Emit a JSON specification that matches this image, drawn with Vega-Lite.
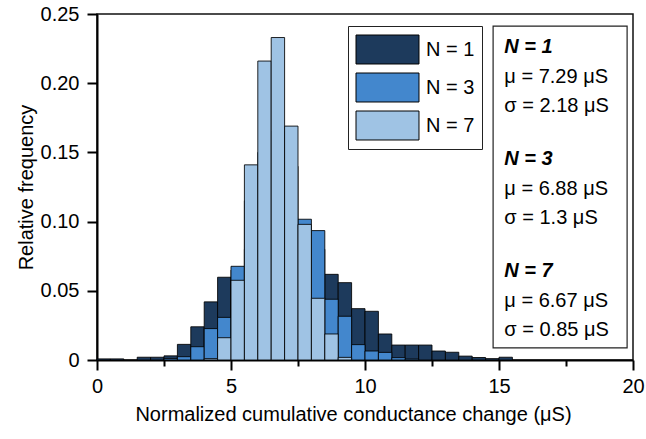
{
  "$schema": "https://vega.github.io/schema/vega-lite/v6.json",
  "width": 536,
  "height": 346,
  "autosize": {"type": "none"},
  "padding": {"left": 97, "top": 14, "right": 13, "bottom": 79},
  "background": "white",
  "config": {
    "font": "Liberation Sans",
    "view": {"stroke": "#111111", "strokeWidth": 1.5},
    "axis": {
      "domainColor": "#000000",
      "domainWidth": 2,
      "tickColor": "#000000",
      "tickWidth": 2,
      "labelFont": "Liberation Sans",
      "labelFontSize": 20,
      "labelColor": "#000000",
      "titleFont": "Liberation Sans",
      "titleFontSize": 20,
      "titleFontWeight": "normal",
      "titleColor": "#000000",
      "grid": false,
      "labelFlush": false,
      "labelOverlap": false
    }
  },
  "datasets": {
    "hist": [
      {"N": "N = 1", "start": 0.0, "end": 0.5, "freq": 0.0008},
      {"N": "N = 1", "start": 0.5, "end": 1.0, "freq": 0.0008},
      {"N": "N = 1", "start": 1.5, "end": 2.0, "freq": 0.002},
      {"N": "N = 1", "start": 2.0, "end": 2.5, "freq": 0.002},
      {"N": "N = 1", "start": 2.5, "end": 3.0, "freq": 0.003},
      {"N": "N = 1", "start": 3.0, "end": 3.5, "freq": 0.0113},
      {"N": "N = 1", "start": 3.5, "end": 4.0, "freq": 0.024},
      {"N": "N = 1", "start": 4.0, "end": 4.5, "freq": 0.042},
      {"N": "N = 1", "start": 4.5, "end": 5.0, "freq": 0.0598},
      {"N": "N = 1", "start": 5.0, "end": 5.5, "freq": 0.065},
      {"N": "N = 1", "start": 5.5, "end": 6.0, "freq": 0.08},
      {"N": "N = 1", "start": 6.0, "end": 6.5, "freq": 0.09},
      {"N": "N = 1", "start": 6.5, "end": 7.0, "freq": 0.095},
      {"N": "N = 1", "start": 7.0, "end": 7.5, "freq": 0.095},
      {"N": "N = 1", "start": 7.5, "end": 8.0, "freq": 0.085},
      {"N": "N = 1", "start": 8.0, "end": 8.5, "freq": 0.08},
      {"N": "N = 1", "start": 8.5, "end": 9.0, "freq": 0.0619},
      {"N": "N = 1", "start": 9.0, "end": 9.5, "freq": 0.0559},
      {"N": "N = 1", "start": 9.5, "end": 10.0, "freq": 0.0371},
      {"N": "N = 1", "start": 10.0, "end": 10.5, "freq": 0.0352},
      {"N": "N = 1", "start": 10.5, "end": 11.0, "freq": 0.0188},
      {"N": "N = 1", "start": 11.0, "end": 11.5, "freq": 0.0108},
      {"N": "N = 1", "start": 11.5, "end": 12.0, "freq": 0.0108},
      {"N": "N = 1", "start": 12.0, "end": 12.5, "freq": 0.0108},
      {"N": "N = 1", "start": 12.5, "end": 13.0, "freq": 0.0065},
      {"N": "N = 1", "start": 13.0, "end": 13.5, "freq": 0.0056},
      {"N": "N = 1", "start": 13.5, "end": 14.0, "freq": 0.0028},
      {"N": "N = 1", "start": 14.0, "end": 14.5, "freq": 0.0018},
      {"N": "N = 1", "start": 14.5, "end": 15.0, "freq": 0.001},
      {"N": "N = 1", "start": 15.0, "end": 15.5, "freq": 0.002},
      {"N": "N = 3", "start": 2.5, "end": 3.0, "freq": 0.001},
      {"N": "N = 3", "start": 3.0, "end": 3.5, "freq": 0.0024},
      {"N": "N = 3", "start": 3.5, "end": 4.0, "freq": 0.0096},
      {"N": "N = 3", "start": 4.0, "end": 4.5, "freq": 0.0227},
      {"N": "N = 3", "start": 4.5, "end": 5.0, "freq": 0.0308},
      {"N": "N = 3", "start": 5.0, "end": 5.5, "freq": 0.0677},
      {"N": "N = 3", "start": 5.5, "end": 6.0, "freq": 0.115},
      {"N": "N = 3", "start": 6.0, "end": 6.5, "freq": 0.15},
      {"N": "N = 3", "start": 6.5, "end": 7.0, "freq": 0.165},
      {"N": "N = 3", "start": 7.0, "end": 7.5, "freq": 0.14},
      {"N": "N = 3", "start": 7.5, "end": 8.0, "freq": 0.1017},
      {"N": "N = 3", "start": 8.0, "end": 8.5, "freq": 0.0935},
      {"N": "N = 3", "start": 8.5, "end": 9.0, "freq": 0.0439},
      {"N": "N = 3", "start": 9.0, "end": 9.5, "freq": 0.0316},
      {"N": "N = 3", "start": 9.5, "end": 10.0, "freq": 0.0111},
      {"N": "N = 3", "start": 10.0, "end": 10.5, "freq": 0.0065},
      {"N": "N = 3", "start": 10.5, "end": 11.0, "freq": 0.0055},
      {"N": "N = 3", "start": 11.0, "end": 11.5, "freq": 0.0017},
      {"N": "N = 3", "start": 11.5, "end": 12.0, "freq": 0.0007},
      {"N": "N = 7", "start": 4.0, "end": 4.5, "freq": 0.001},
      {"N": "N = 7", "start": 4.5, "end": 5.0, "freq": 0.0161},
      {"N": "N = 7", "start": 5.0, "end": 5.5, "freq": 0.0576},
      {"N": "N = 7", "start": 5.5, "end": 6.0, "freq": 0.141},
      {"N": "N = 7", "start": 6.0, "end": 6.5, "freq": 0.216},
      {"N": "N = 7", "start": 6.5, "end": 7.0, "freq": 0.233},
      {"N": "N = 7", "start": 7.0, "end": 7.5, "freq": 0.169},
      {"N": "N = 7", "start": 7.5, "end": 8.0, "freq": 0.098},
      {"N": "N = 7", "start": 8.0, "end": 8.5, "freq": 0.0446},
      {"N": "N = 7", "start": 8.5, "end": 9.0, "freq": 0.0188},
      {"N": "N = 7", "start": 9.0, "end": 9.5, "freq": 0.0019}
    ],
    "stats": [
      {"N": "N = 1", "mu": "μ = 7.29 μS", "sigma": "σ = 2.18 μS"},
      {"N": "N = 3", "mu": "μ = 6.88 μS", "sigma": "σ = 1.3 μS"},
      {"N": "N = 7", "mu": "μ = 6.67 μS", "sigma": "σ = 0.85 μS"}
    ]
  },
  "layer": [
    {
      "layer": [
        {
          "data": {"name": "hist"},
          "transform": [{"filter": "datum.N === 'N = 1'"}],
          "mark": {"type": "bar", "stroke": "#000000", "strokeWidth": 1, "strokeOpacity": 0.85},
          "encoding": {
            "x": {
              "field": "start", "type": "quantitative",
              "scale": {"domain": [0, 20], "nice": false, "zero": false},
              "title": "Normalized cumulative conductance change (μS)",
              "axis": {
                "values": [0, 2.5, 5, 7.5, 10, 12.5, 15, 17.5, 20],
                "labelExpr": "datum.value % 5 === 0 ? format(datum.value, 'd') : ''",
                "tickSize": {"condition": {"test": "datum.value % 5 === 0", "value": 10}, "value": 6},
                "labelPadding": 6,
                "titlePadding": 8,
                "titleX": 256
              }
            },
            "x2": {"field": "end"},
            "y": {
              "field": "freq", "type": "quantitative", "stack": null,
              "scale": {"domain": [0, 0.25], "nice": false},
              "title": "Relative frequency",
              "axis": {
                "values": [0, 0.025, 0.05, 0.075, 0.1, 0.125, 0.15, 0.175, 0.2, 0.225, 0.25],
                "labelExpr": "round(datum.value * 1000) % 50 === 0 ? (datum.value === 0 ? '0' : format(datum.value, '.2f')) : ''",
                "tickSize": {"condition": {"test": "round(datum.value * 1000) % 50 === 0", "value": 10}, "value": 6},
                "labelPadding": 8,
                "titlePadding": 4
              }
            },
            "y2": {"datum": 0},
            "color": {
              "field": "N", "type": "nominal",
              "scale": {"domain": ["N = 1", "N = 3", "N = 7"], "range": ["#1d3a5c", "#4387cd", "#9fc3e4"]},
              "legend": {
                "orient": "none", "legendX": 251, "legendY": 12,
                "title": null,
                "strokeColor": "#222222", "fillColor": "white", "padding": 7,
                "symbolType": "M-2,-0.92H2V0.92H-2Z",
                "symbolSize": 992,
                "symbolStrokeColor": "#000000", "symbolStrokeWidth": 1, "symbolOpacity": 1,
                "symbolOffset": 16,
                "labelFont": "Liberation Sans", "labelFontSize": 20, "labelColor": "#000000",
                "labelOffset": 22,
                "rowPadding": 5
              }
            }
          }
        },
        {
          "data": {"name": "hist"},
          "transform": [{"filter": "datum.N === 'N = 3'"}],
          "mark": {"type": "bar", "stroke": "#000000", "strokeWidth": 1, "strokeOpacity": 0.85},
          "encoding": {
            "x": {"field": "start", "type": "quantitative"},
            "x2": {"field": "end"},
            "y": {"field": "freq", "type": "quantitative", "stack": null},
            "y2": {"datum": 0},
            "color": {"field": "N", "type": "nominal"}
          }
        },
        {
          "data": {"name": "hist"},
          "transform": [{"filter": "datum.N === 'N = 7'"}],
          "mark": {"type": "bar", "stroke": "#000000", "strokeWidth": 1, "strokeOpacity": 0.85},
          "encoding": {
            "x": {"field": "start", "type": "quantitative"},
            "x2": {"field": "end"},
            "y": {"field": "freq", "type": "quantitative", "stack": null},
            "y2": {"datum": 0},
            "color": {"field": "N", "type": "nominal"}
          }
        },
        {
          "data": {"values": [{}]},
          "mark": {"type": "rect", "fill": "white", "stroke": "#222222", "strokeWidth": 1.2},
          "encoding": {
            "x": {"datum": 14.78},
            "x2": {"datum": 19.78},
            "y": {"datum": 0.2413},
            "y2": {"datum": 0.0087}
          }
        }
      ]
    },
    {
      "data": {"name": "stats"},
      "encoding": {
        "x": {"datum": 15.2},
        "y": {
          "field": "N", "type": "nominal",
          "scale": {"type": "point", "domain": ["N = 1", "N = 3", "N = 7"], "range": [39, 263], "padding": 0},
          "axis": null
        }
      },
      "layer": [
        {
          "mark": {"type": "text", "align": "left", "baseline": "alphabetic", "fontSize": 20, "fontWeight": "bold", "fontStyle": "italic", "color": "#000000"},
          "encoding": {"text": {"field": "N"}}
        },
        {
          "mark": {"type": "text", "align": "left", "baseline": "alphabetic", "fontSize": 20, "dy": 30, "color": "#000000"},
          "encoding": {"text": {"field": "mu"}}
        },
        {
          "mark": {"type": "text", "align": "left", "baseline": "alphabetic", "fontSize": 20, "dy": 58.5, "color": "#000000"},
          "encoding": {"text": {"field": "sigma"}}
        }
      ]
    }
  ],
  "resolve": {"scale": {"y": "independent"}}
}
